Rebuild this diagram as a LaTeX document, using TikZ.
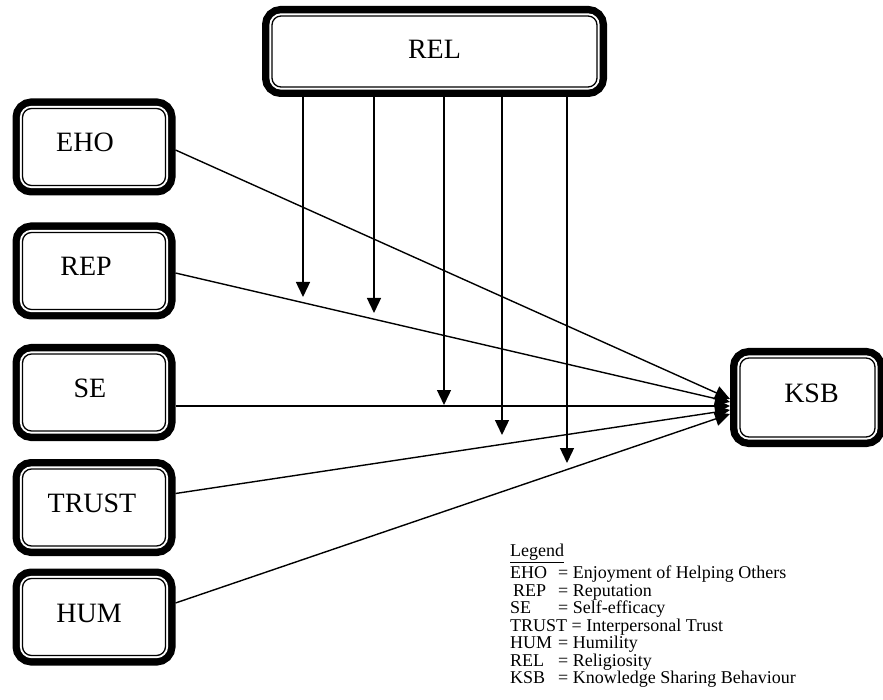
\documentclass[tikz,border=0pt]{standalone}
\usepackage{fontspec}
\setmainfont{Liberation Serif}
\usetikzlibrary{arrows.meta}
\newcommand{\legabbr}[1]{\makebox[48pt][l]{#1}}
\tikzset{
  var/.style={fill=white,draw,line width=1.3pt,rounded corners=9pt,
    preaction={draw,line width=20pt},
    preaction={draw=white,line width=5.2pt},
    inner sep=0pt,outer sep=10pt,minimum width=143pt,minimum height=77pt,
    text height=19pt,text depth=9pt,
    font=\fontsize{28}{30}\selectfont},
  path/.style={line width=1.4pt,-{Triangle[length=15pt,width=14pt]}},
}
\begin{document}
\begin{tikzpicture}[x=1pt,y=-1pt]
\useasboundingbox (0,0) rectangle (883,700);
\node[var] (eho) at (94,147) {EHO\hspace*{18pt}};
\node[var] (rep) at (94,271) {REP\hspace*{16pt}};
\node[var] (se) at (94,392.5) {SE\hspace*{8pt}};
\node[var] (trust) at (94,507.5) {TRUST\hspace*{4pt}};
\node[var] (hum) at (94,617) {HUM\hspace*{10pt}};
\node[var,minimum width=325pt,minimum height=71pt,text depth=4pt] (rel) at (434.5,51.5) {REL};
\node[var,minimum width=135pt,minimum height=79pt] (ksb) at (807.5,397.5) {\hspace*{8pt}KSB};
\draw[path] ([yshift=-3pt]eho.east) -- ([yshift=-1.5pt]ksb.west);
\draw[path] ([yshift=-2pt]rep.east) -- ([yshift=-4.5pt]ksb.west);
\draw[path] ([yshift=-13.5pt]se.east) -- ([yshift=-8.5pt]ksb.west);
\draw[path] ([yshift=14pt]trust.east) -- ([yshift=-12.5pt]ksb.west);
\draw[path] ([yshift=14pt]hum.east) -- ([yshift=-16.5pt]ksb.west);
% moderating arrows
\coordinate (m1) at (303,297);
\coordinate (m2) at (374,313);
\coordinate (m3) at (444,405);
\coordinate (m4) at (502,435);
\coordinate (m5) at (567,463);
\foreach \m in {m1,m2,m3,m4,m5}
  \draw[path] (rel.south -| \m) -- (\m);
\node[anchor=north west,align=left,inner sep=0pt,
  font=\fontsize{18}{17.5}\selectfont] (legend) at (510,544)
  {\underline{Legend}\\[2.5pt]
   \legabbr{EHO}= Enjoyment of Helping Others\\
   \legabbr{\hspace{3pt}REP}= Reputation\\
   \legabbr{SE}= Self-efficacy\\
   TRUST = Interpersonal Trust\\
   \legabbr{HUM}= Humility\\
   \legabbr{REL}= Religiosity\\
   \legabbr{KSB}= Knowledge Sharing Behaviour};
\end{tikzpicture}
\end{document}
